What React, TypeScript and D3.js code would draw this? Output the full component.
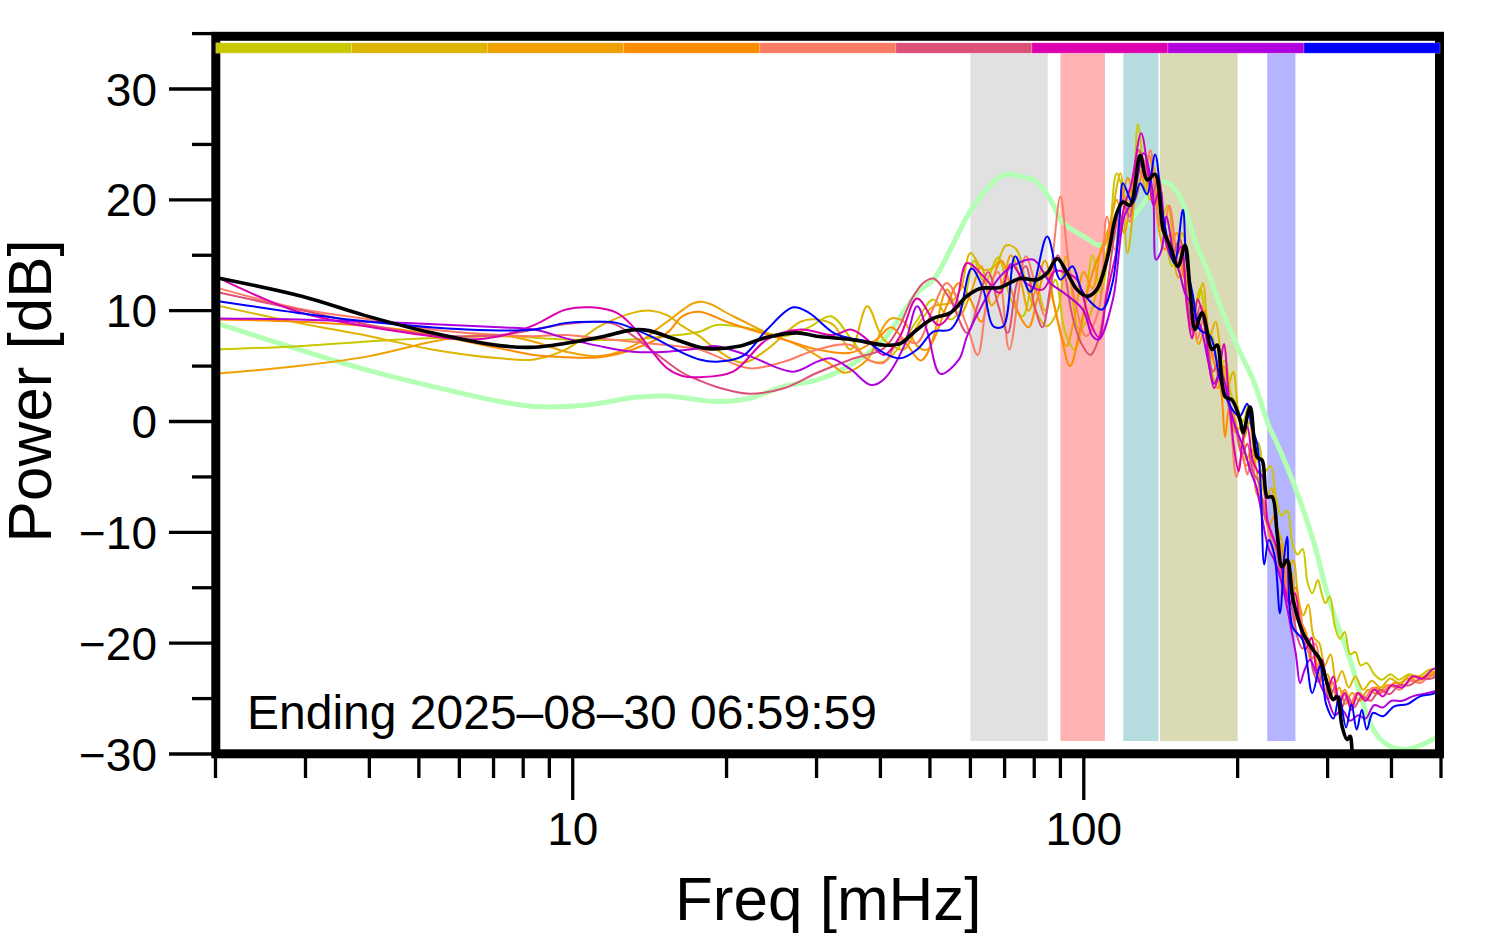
import React from 'react';
import * as d3 from 'd3';

type Pt = [number, number];

// ---- axis ticks ----
const freqMajorTicks = [10, 100];
const freqMinorTicks = [2, 3, 4, 5, 6, 7, 8, 9, 20, 30, 40, 50, 60, 70, 80, 90, 200, 300, 400, 500];
const dbMajorTicks = [-30, -20, -10, 0, 10, 20, 30];
const dbMinorTicks = [-25, -15, -5, 5, 15, 25, 35];

// ---- shaded frequency bands (mHz) ----
const bandRanges: Pt[] = [[60, 85], [90, 110], [119.5, 140], [141, 200], [228.5, 259.5]];
const bandColors = ['#e1e1e1', '#ffb3b3', '#b5dcdf', '#dadbb4', '#b4b4ff'];

// ---- series colours (also the top colour bar) ----
const seriesNames = ['d1', 'd2', 'd3', 'd4', 'd5', 'd6', 'd7', 'd8', 'd9'];
const seriesColors = ['#c8c800', '#ddb400', '#f0a000', '#ff8c00', '#ff7b66', '#dd5078', '#dd00b0', '#b000dd', '#0000ff'];

// ---- series values: [freq mHz, power dB] ----
const d1Values: Pt[] = [[2,6.5],[2.9,6.8],[4.6,7.4],[7.2,7.7],[9.7,7.4],[13.1,7.4],[15.3,7.7],[17.7,8.1],[19.1,8.7],[22.2,8.4],[25.9,7.7],[29,8.5],[32,9.5],[35,7.5],[37.8,5.6],[40.6,5.4],[44,7.0],[47,9.0],[50.8,11.0],[54.8,9.2],[58,10.5],[61,14.5],[64,12.5],[68,14.8],[72,11.0],[76,9.5],[80,13.0],[84,10.0],[88,12.8],[92,8.0],[96,6.5],[100,9.5],[104,15.0],[108,11.5],[112,16.0],[116,22.4],[120,20.5],[124,19.0],[127.5,26.8],[131,23.0],[135,20.0],[139,21.5],[144,17.0],[149,14.0],[154,16.5],[159,12.5],[164,10.0],[169,12.0],[174,8.5],[179,7.5],[184,5.0],[189,5.5],[194,2.5],[199,1.5],[205,0.0],[210,1.5],[215,-1.5],[220,-2.0],[226,-4.5],[232,-4.0],[238,-7.0],[244,-8.5],[250,-8.0],[256,-11.0],[262,-12.0],[268,-11.5],[274,-14.5],[280,-15.5],[287,-14.3],[292,-15.5],[297,-16.4],[303,-15.8],[310,-18.5],[317,-19.6],[324,-19.0],[332,-21.0],[340,-20.8],[348,-22.0],[358,-21.8],[370,-22.8],[383,-23.3],[398,-22.8],[414,-23.3],[432,-22.8],[452,-23.0],[474,-22.4],[500,-22.3]];

const d2Values: Pt[] = [[2,10.5],[2.9,8.9],[4,7.7],[5.3,6.5],[7.2,5.7],[8.4,5.6],[9.7,6.5],[11.3,8.6],[13.1,9.8],[14.2,10.0],[15.3,9.6],[16.4,8.6],[17.7,7.7],[19.1,6.5],[21.5,5.3],[24,6.5],[27.9,9.0],[30.1,9.2],[32.4,8.7],[35,6.5],[37.7,10.4],[40.6,7.4],[44.5,6.5],[47.2,8.6],[50.8,10.4],[54.8,10.7],[57.5,12.0],[60,15.2],[63.6,13.7],[67,14.0],[70.5,15.9],[73.9,15.5],[77.5,11.9],[80.5,10.0],[84.5,8.6],[89,10.1],[92.4,14.9],[98,8.3],[102.5,9.5],[107,12.5],[111,15.5],[114,19.0],[118,22.4],[121.7,15.2],[125,19.0],[129,24.0],[133,21.5],[137,23.0],[141,18.0],[146,19.5],[151,15.5],[156,17.0],[161,12.0],[166,10.5],[171,12.5],[176,7.5],[181,9.0],[186,5.5],[191,3.0],[196,4.5],[201,0.5],[206,-1.5],[211,0.0],[216,-3.0],[221,-4.0],[227,-7.0],[233,-6.0],[239,-9.5],[245,-11.0],[251,-13.5],[257,-12.5],[263,-16.0],[269,-17.5],[275,-16.5],[282,-19.5],[289,-20.0],[296,-22.0],[304,-21.0],[312,-23.5],[320,-22.5],[330,-24.0],[340,-23.0],[352,-24.2],[366,-23.4],[381,-24.0],[397,-23.2],[415,-23.6],[435,-22.9],[456,-23.1],[478,-22.6],[500,-22.7]];

const d3Values: Pt[] = [[2,4.3],[2.9,5.0],[4,5.9],[5.3,7.2],[6.2,7.7],[7.2,7.8],[8.4,7.2],[9.7,6.3],[11.3,5.9],[13.1,6.8],[15.3,9.0],[17.7,10.8],[20.6,9.5],[24,8.0],[27.9,6.8],[32.4,5.0],[34,4.4],[37.7,5.6],[40.6,8.6],[42,9.3],[44.5,9.0],[47.2,6.8],[49.5,6.5],[54,11.9],[57,9.5],[60,11.5],[63,14.0],[66,10.5],[69,12.0],[72,15.0],[75,13.0],[78,10.0],[81,12.5],[84,14.5],[88,10.0],[92.4,6.8],[96,9.5],[100,13.5],[104,12.0],[108,15.5],[112,17.5],[116,20.0],[120,17.0],[124,21.0],[128,24.5],[132,21.0],[136,22.5],[140,17.5],[144,15.5],[148,17.0],[153,13.0],[158,13.5],[163,9.5],[168,7.0],[173,8.5],[178,4.5],[183,3.0],[188,5.0],[193,1.0],[198,-1.0],[203,-0.5],[208,-3.5],[213,-2.5],[218,-4.5],[224,-8.0],[230,-9.5],[236,-8.5],[242,-12.5],[248,-14.0],[254,-13.5],[260,-17.0],[266,-18.5],[272,-20.5],[279,-19.5],[286,-22.0],[293,-23.5],[300,-22.8],[308,-25.0],[316,-24.0],[325,-25.5],[335,-24.5],[347,-25.2],[360,-24.2],[375,-24.6],[392,-23.8],[410,-24.0],[430,-23.2],[452,-23.4],[476,-22.8],[500,-22.9]];

const d4Values: Pt[] = [[2,9.2],[2.9,9.0],[4.6,8.3],[7.2,6.6],[8.4,6.0],[9.7,5.8],[11.3,5.8],[13.1,6.5],[15.3,8.0],[16.4,9.5],[17.7,9.9],[20,9.0],[22.2,8.3],[25.9,7.4],[30.1,6.5],[35,6.2],[39.3,7.4],[42,8.5],[45,7.0],[48,5.5],[51,7.5],[54,10.5],[57,12.5],[60,11.0],[63,9.0],[66,12.5],[69,14.5],[72,12.0],[75,9.5],[78,8.5],[81,11.0],[84,13.5],[87,11.0],[90,8.0],[94,5.0],[98,8.0],[102,12.0],[106,14.5],[110,16.0],[114,18.0],[118,19.5],[122,22.0],[126,20.0],[130,22.5],[134,24.0],[138,21.0],[142,18.5],[147,16.0],[152,17.0],[157,13.0],[162,12.0],[167,9.0],[172,10.0],[177,6.5],[182,4.5],[186,2.5],[189,-1.4],[193,1.5],[198,0.0],[203,-2.5],[208,-4.0],[213,-3.5],[218,-6.5],[224,-7.0],[230,-10.0],[236,-11.5],[242,-11.0],[248,-14.5],[254,-15.5],[260,-15.0],[266,-18.0],[272,-19.0],[278,-21.5],[285,-21.0],[292,-23.0],[299,-24.5],[307,-23.5],[315,-25.2],[324,-24.2],[334,-25.5],[345,-24.5],[358,-25.0],[372,-24.0],[388,-24.4],[405,-23.6],[424,-23.8],[445,-23.0],[468,-23.2],[490,-22.6],[500,-22.8]];

const d5Values: Pt[] = [[2,12.1],[2.9,10.2],[4,9.2],[5.3,8.3],[7.2,7.8],[8.4,7.7],[9.7,7.8],[11.3,7.5],[13.1,7.2],[15.3,6.9],[17.7,6.5],[19.1,5.9],[22.2,4.8],[25.9,5.4],[30.1,6.5],[35,6.9],[37.7,5.6],[40.6,5.3],[43.7,7.4],[47.2,7.1],[50.5,10.0],[54,12.5],[59.1,8.6],[62,6.0],[65,11.5],[68,13.5],[71.5,6.5],[77,14.9],[81,11.6],[84,9.5],[87,15.0],[90,20.3],[93,15.0],[96,11.0],[101,7.7],[107,10.1],[111,18.5],[115,15.5],[119,20.5],[123,18.0],[127,23.0],[131,22.0],[135,24.5],[139,19.0],[143,17.0],[147,19.5],[152,15.0],[157,12.0],[162,10.5],[167,7.5],[172,9.5],[177,6.5],[182,5.5],[187,3.0],[192,1.5],[199,-5.0],[204,-3.0],[209,-4.8],[213,-3.0],[217,-6.0],[222,-7.5],[228,-9.0],[234,-11.5],[240,-13.5],[246,-12.5],[252,-16.5],[258,-18.0],[264,-17.0],[270,-19.5],[277,-21.0],[284,-20.0],[291,-22.5],[298,-24.5],[306,-23.5],[314,-25.5],[322,-24.5],[332,-25.5],[342,-24.5],[354,-25.0],[368,-24.0],[382,-24.5],[398,-23.8],[415,-24.2],[435,-23.4],[455,-23.6],[475,-23.0],[500,-22.8]];

const d6Values: Pt[] = [[2,11.7],[2.9,10.1],[4,8.7],[5.3,7.8],[7.2,7.8],[8.4,8.3],[9.7,8.8],[11.3,9.0],[12.2,8.7],[14.2,6.5],[16.4,4.4],[17.7,3.7],[19.5,3.0],[22.2,2.5],[25.9,3.0],[30.1,4.4],[35,5.6],[40.6,6.6],[43.5,8.5],[46,11.0],[48.5,12.5],[50.8,12.9],[54.8,11.0],[59.1,8.0],[62,10.5],[65,13.5],[68,10.5],[71,8.0],[74,12.5],[77,14.0],[80,10.5],[83,8.5],[86,12.0],[89,15.0],[92,13.0],[95,9.5],[99,7.0],[103,6.0],[107,7.5],[111,12.0],[115,17.0],[119,20.0],[123,18.5],[128,24.5],[132,23.0],[136,20.5],[140,22.0],[144,17.5],[149,15.0],[154,16.5],[159,11.5],[164,8.0],[169,10.5],[174,7.5],[179,4.5],[184,5.5],[189,3.0],[194,0.5],[199,-1.0],[204,-3.0],[209,-2.0],[214,-4.5],[220,-5.5],[226,-8.5],[232,-10.0],[238,-11.5],[244,-14.5],[250,-15.5],[256,-17.0],[262,-19.5],[268,-20.5],[274,-19.5],[281,-22.5],[288,-23.5],[295,-22.5],[302,-25.0],[310,-24.0],[318,-26.0],[328,-24.8],[338,-25.8],[350,-24.8],[364,-25.2],[380,-24.2],[396,-24.6],[414,-23.8],[434,-23.8],[455,-23.2],[478,-23.2],[500,-22.6]];

const d7Values: Pt[] = [[2,13.1],[2.9,9.9],[4.6,8.1],[6.2,7.4],[7.2,7.7],[8.4,8.7],[9.7,10.1],[10.9,10.3],[12.2,9.8],[13.1,8.6],[14.2,6.5],[15.3,4.8],[16.4,4.1],[17.7,4.0],[20.6,4.5],[24,7.4],[27.9,8.3],[32.4,7.8],[35,8.3],[37.7,7.4],[40.6,6.0],[43.7,7.7],[47.2,11.1],[52,8.7],[56,10.5],[59.1,14.3],[63.6,13.1],[68.6,11.6],[72,14.2],[77,12.5],[83,11.9],[88,13.6],[92.4,13.4],[97,12.8],[103,8.9],[107,7.6],[111,11.5],[116,15.5],[120,19.4],[124,21.5],[129.5,26.0],[134,22.1],[137,19.5],[141,21.0],[145,16.0],[150,14.5],[155,15.8],[159,10.5],[163,7.5],[167,11.0],[172,9.0],[176,5.0],[180,3.0],[184,4.5],[188,7.0],[192,2.5],[197,-2.5],[201,-4.5],[205,-1.5],[209,-0.5],[214,-3.5],[219,-4.5],[224,-5.0],[229,-9.0],[235,-10.5],[241,-12.0],[247,-15.0],[253,-16.5],[259,-15.5],[265,-18.5],[272,-20.5],[279,-19.5],[286,-22.5],[293,-21.5],[300,-24.0],[308,-23.0],[316,-25.5],[324,-24.5],[334,-26.0],[344,-24.5],[356,-25.2],[370,-24.2],[385,-24.8],[400,-23.8],[420,-24.0],[440,-23.0],[460,-23.2],[480,-22.4],[500,-22.1]];

const d8Values: Pt[] = [[2,9.3],[2.9,9.2],[4.6,8.9],[7.2,8.5],[8.4,8.3],[9.7,7.5],[11.3,6.8],[13.1,6.3],[15.3,6.3],[17.7,6.6],[19.1,6.8],[22.2,5.9],[27,4.5],[30.1,5.4],[32,5.7],[35,4.7],[38.3,3.3],[40.6,3.8],[44.5,6.8],[47.2,10.4],[49.5,8.0],[52.4,4.3],[57,5.6],[59.1,7.7],[63.6,10.7],[68.6,13.1],[74.5,14.3],[79.8,14.6],[86,12.5],[92,11.5],[99.6,10.1],[104,7.7],[107,7.4],[114,11.0],[120,18.5],[124.7,20.0],[131,24.2],[136.5,20.6],[138.5,14.6],[142,15.5],[145,18.5],[150,15.0],[154,13.4],[158,11.5],[162,10.7],[166,9.5],[170,8.3],[175,5.5],[180,3.4],[185,4.5],[190,3.0],[195,0.5],[200,-1.0],[206,-2.5],[212,-4.5],[218,-6.0],[224,-9.0],[230,-11.5],[236,-12.5],[242,-14.0],[248,-16.0],[254,-18.5],[260,-21.0],[265,-23.6],[270,-22.5],[277,-21.5],[284,-22.5],[292,-24.0],[300,-25.0],[310,-26.5],[320,-26.0],[332,-27.0],[344,-26.5],[356,-26.8],[370,-25.6],[385,-25.8],[400,-25.2],[420,-25.2],[440,-24.8],[460,-24.6],[480,-24.4],[500,-24.2]];

const d9Values: Pt[] = [[2,10.9],[2.9,9.8],[4,9.0],[6.2,8.3],[8.4,8.3],[9.7,8.9],[11.3,9.0],[12.2,8.9],[14.2,7.7],[16.4,6.2],[17.7,5.6],[19.1,5.4],[21.5,5.9],[24,8.3],[27,10.3],[29,9.8],[32.4,8.0],[35,7.5],[37.7,7.2],[40.6,6.2],[43.7,5.7],[47.2,6.5],[50.8,8.1],[54.8,8.3],[57,9.5],[60.3,13.8],[63.6,11.9],[66.5,8.6],[69.6,8.6],[73.4,14.9],[78.6,11.7],[84.8,16.7],[90,12.8],[95,14.0],[98.9,11.9],[103,10.8],[108.6,10.1],[113.8,12.5],[117.6,18.5],[119.3,21.5],[124.7,19.7],[128.9,21.5],[133,20.5],[137.9,24.1],[143,18.5],[150.4,14.3],[156.3,19.1],[158.7,14.6],[163.6,11.3],[168.5,8.3],[176.8,7.7],[184.8,3.8],[195.8,1.0],[202,0.5],[208.8,1.6],[213,-0.5],[218.4,-2.0],[222,-6.0],[225.5,-12.9],[230,-10.7],[236,-12.0],[242,-17.3],[247,-12.0],[250,-10.4],[256,-18.5],[268,-19.7],[280,-24.5],[290,-22.1],[298,-25.5],[308,-26.8],[316,-24.8],[326,-27.6],[334,-25.5],[342,-27.8],[350,-26.0],[358,-27.8],[368,-26.3],[385,-26.6],[405,-25.7],[430,-25.5],[455,-24.8],[480,-24.6],[500,-24.2]];

const meanValues: Pt[] = [[2,13.0],[2.95,11.3],[3.9,9.6],[5.3,8.0],[7.2,6.85],[8.4,6.7],[9.7,7.06],[11.3,7.6],[13.1,8.27],[14.1,8.2],[15.9,7.4],[18.2,6.6],[21,6.76],[24,7.6],[27.5,8.0],[30,7.7],[35,7.4],[40.5,6.9],[42.3,6.9],[44,7.1],[47.2,8.3],[50.7,9.3],[54.8,9.8],[59,11.3],[62.7,12.0],[68.5,12.1],[75,12.9],[81,12.8],[84.8,13.4],[88.7,14.7],[92.8,13.4],[97,11.9],[101.5,11.3],[106,11.9],[111,14.6],[116,18.8],[119.4,19.8],[123.2,19.5],[128.9,24.0],[133,21.8],[137.9,22.3],[143,17.3],[147.6,15.8],[152.9,14.0],[157.8,15.9],[161.4,11.9],[165.1,8.3],[170.4,9.8],[178.3,6.5],[182.3,6.9],[189,2.25],[195,1.95],[202.3,0.1],[205,-1.0],[211.6,1.3],[218.4,-3.2],[223.4,-3.5],[228.5,-6.8],[233.7,-6.8],[239,-10.1],[244.4,-13.1],[250,-12.5],[256.8,-16.1],[268.6,-19.1],[281,-20.6],[290,-21.5],[299.3,-23.6],[307.5,-25.1],[313.1,-24.8],[320.2,-27.5],[327.5,-28.7],[331.9,-28.4],[336.5,-30.5],[345,-32],[360,-33],[400,-34],[450,-34],[500,-34]];

const referenceValues: Pt[] = [[2,8.9],[2.93,6.46],[3.95,4.66],[5.33,3.15],[7.2,1.8],[8.4,1.35],[9.7,1.35],[11.3,1.65],[13.1,2.16],[15.3,2.3],[17.7,1.95],[19.1,1.8],[22.2,2.1],[25.8,3.15],[30.1,3.75],[35,5.1],[40.6,7.4],[47.2,11.6],[50.8,12.8],[54.8,15.5],[59.1,18.5],[63.6,20.6],[68.6,22.1],[71.5,22.3],[77,22.0],[79.8,21.8],[83.5,20.9],[87.5,19.4],[90,18.2],[95,17.3],[101.5,16.5],[107,15.9],[112,16.2],[120,17.5],[130,19.5],[140,21.5],[145,21.6],[152.9,20.6],[158.5,18.9],[165,16.3],[174.3,13.7],[185,10.4],[193.3,8.3],[202.3,6.2],[214.5,3.75],[230.5,-0.46],[239,-2.0],[257,-5.5],[281,-10.7],[302,-16.1],[332,-21.5],[350,-25.1],[372,-28.1],[397,-29.3],[421,-29.6],[451,-29.3],[481,-28.7],[500,-28.3]];

const colouredSeries: Pt[][] = [d1Values, d2Values, d3Values, d4Values, d5Values, d6Values, d7Values, d8Values, d9Values];

const captionText = 'Ending 2025\u201308\u201330 06:59:59';
const xTitle = 'Freq [mHz]';
const yTitle = 'Power [dB]';

const W = 1494;
const H = 952;
const FONT = "'Liberation Sans', Arial, Helvetica, sans-serif";

export default function App() {
  const x = d3.scaleLog().domain([2, 500]).range([215.5, 1441]);
  const y = d3.scaleLinear().domain([-30, 35]).range([754, 33.6]);

  const frame = { left: 215.8, right: 1439.5, top: 36.3, bottom: 753.8 };
  const barTop = 42.8;
  const barBottom = 53.2;
  const bandBottom = 741;

  const barScale = d3.scaleBand<string>().domain(seriesNames).range([frame.left, frame.right + 0.5]);

  const line = d3
    .line<Pt>()
    .x((d) => x(d[0]))
    .y((d) => y(d[1]))
    .curve(d3.curveCatmullRom.alpha(0.5));

  const fmtMinus = (v: number) => (v < 0 ? '\u2212' + Math.abs(v) : String(v));

  return (
    <svg
      width={W}
      height={H}
      viewBox={`0 0 ${W} ${H}`}
      style={{ position: 'absolute', left: 0, top: 0, background: '#fff' }}
      fontFamily={FONT}
    >
      <defs>
        <clipPath id="plotClip">
          <rect x={frame.left} y={frame.top} width={frame.right - frame.left} height={frame.bottom - frame.top} />
        </clipPath>
      </defs>
      <rect x={0} y={0} width={W} height={H} fill="#fff" />

      {/* bands */}
      {bandRanges.map((b, i) => (
        <rect
          key={'band' + i}
          x={x(b[0])}
          y={barBottom}
          width={x(b[1]) - x(b[0])}
          height={bandBottom - barBottom}
          fill={bandColors[i]}
        />
      ))}

      {/* lines */}
      <g clipPath="url(#plotClip)" fill="none" strokeLinejoin="round" strokeLinecap="round">
        <path d={line(referenceValues) || ''} stroke="#b3ffb3" strokeWidth={5} />
        {colouredSeries.map((s, i) => (
          <path key={'s' + i} d={line(s) || ''} stroke={seriesColors[i]} strokeWidth={2} />
        ))}
        <path d={line(meanValues) || ''} stroke="#000" strokeWidth={3.6} />
      </g>

      {/* frame */}
      <rect
        x={frame.left}
        y={frame.top}
        width={frame.right - frame.left}
        height={frame.bottom - frame.top}
        fill="none"
        stroke="#000"
        strokeWidth={9}
      />

      {/* colour bar (drawn over the frame edge) */}
      {seriesNames.map((n, i) => (
        <rect
          key={'bar' + n}
          x={barScale(n)}
          y={barTop}
          width={barScale.bandwidth()}
          height={barBottom - barTop}
          fill={seriesColors[i]}
          stroke="#ffffff"
          strokeOpacity={0.4}
          strokeWidth={0.6}
        />
      ))}

      {/* x ticks */}
      {freqMinorTicks.map((t) => (
        <line key={'xm' + t} x1={x(t)} x2={x(t)} y1={y(-30)} y2={778} stroke="#000" strokeWidth={3.3} />
      ))}
      {freqMajorTicks.map((t) => (
        <g key={'xM' + t}>
          <line x1={x(t)} x2={x(t)} y1={y(-30)} y2={800} stroke="#000" strokeWidth={3.3} />
          <text x={x(t)} y={845} textAnchor="middle" fontSize={46} fill="#000">
            {t}
          </text>
        </g>
      ))}

      {/* y ticks */}
      {dbMinorTicks.map((t) => (
        <line key={'ym' + t} x1={192} x2={frame.left} y1={y(t)} y2={y(t)} stroke="#000" strokeWidth={3.3} />
      ))}
      {dbMajorTicks.map((t) => (
        <g key={'yM' + t}>
          <line x1={169} x2={frame.left} y1={y(t)} y2={y(t)} stroke="#000" strokeWidth={3.3} />
          <text x={157} y={y(t) + 16.5} textAnchor="end" fontSize={46} fill="#000">
            {fmtMinus(t)}
          </text>
        </g>
      ))}

      {/* caption */}
      <text x={247} y={729} fontSize={48} fill="#000">
        {captionText}
      </text>

      {/* axis titles */}
      <text x={(x(2) + x(500)) / 2} y={920} textAnchor="middle" fontSize={62} fill="#000">
        {xTitle}
      </text>
      <text
        transform={`translate(51, ${(y(-30) + y(35)) / 2 - 3}) rotate(-90)`}
        textAnchor="middle"
        fontSize={62}
        fill="#000"
      >
        {yTitle}
      </text>
    </svg>
  );
}
